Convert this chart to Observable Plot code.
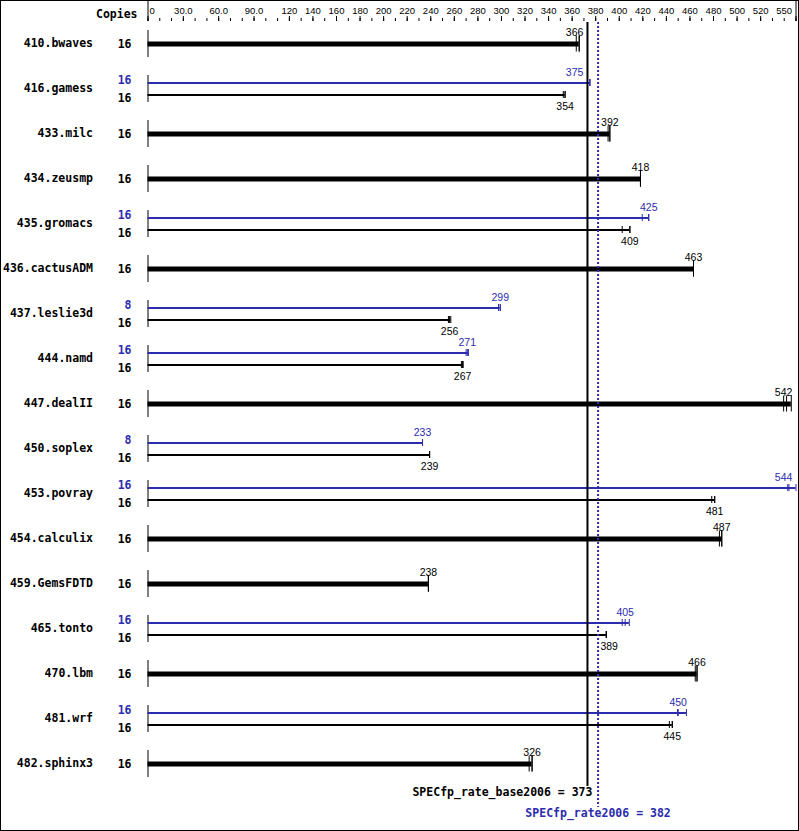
<!DOCTYPE html>
<html><head><meta charset="utf-8">
<script src="https://cdn.jsdelivr.net/npm/d3@7"></script>
<script src="https://cdn.jsdelivr.net/npm/@observablehq/plot@0.6"></script>
<style>body{margin:0;background:#fff} svg{display:block}</style>
</head><body><div id="chart"></div>
<script>
const benchmarks = ["410.bwaves","416.gamess","433.milc","434.zeusmp","435.gromacs","436.cactusADM","437.leslie3d","444.namd","447.dealII","450.soplex","453.povray","454.calculix","459.GemsFDTD","465.tonto","470.lbm","481.wrf","482.sphinx3"];
const baseValues = [366,354,392,418,409,463,256,267,542,239,481,487,238,389,466,445,326];
const peakValues = [null,375,null,null,425,null,299,271,null,233,544,null,null,405,null,450,null];
const baseCopies = [16,16,16,16,16,16,16,16,16,16,16,16,16,16,16,16,16];
const peakCopies = [null,16,null,null,16,null,8,16,null,8,16,null,null,16,null,16,null];
const baseRuns = [[363.5,366,366],[352.5,354,354],[390.5,392,392],[418,418,418],[402.5,409,409],[463,463,463],[255,256,257],[266,267,267.5],[539.5,542,546],[239,239,239],[478.5,481,481],[485,487,487],[238,238,238],[389,389,389],[464.5,466,466],[442.5,445,445],[323.5,326,326]];
const peakRuns = [null,[375,375,375],null,null,[419.5,425,425],null,[297.5,299,299],[270,271,272],null,[233,233,233],[543,544,550],null,null,[402.5,405,408.5],null,[449.5,450,457],null];
const minorTicks = [0,10,20,30,40,50,60,70,80,90,100,110,120,130,140,150,160,170,180,190,200,210,220,230,240,250,260,270,280,290,300,310,320,330,340,350,360,370,380,390,400,410,420,430,440,450,460,470,480,490,500,510,520,530,540,550];
const tickValues = [0,30,60,90,120,140,160,180,200,220,240,260,280,300,320,340,360,380,400,420,440,460,480,500,520,550];
const tickLabels = ["0","30.0","60.0","90.0","120","140","160","180","200","220","240","260","280","300","320","340","360","380","400","420","440","460","480","500","520","550"];
const baseOverall = 373, peakOverall = 382;
const baseOverallLabel = "SPECfp_rate_base2006 = 373";
const peakOverallLabel = "SPECfp_rate2006 = 382";
const copiesHeader = "Copies";

const BLUE = "#2c2cae", BLACK = "#000";
const MONO = "DejaVu Sans Mono, monospace";
const SANS = "Liberation Sans, Arial, sans-serif";

const rows = benchmarks.map((b,i)=>({b, base: baseValues[i], peak: peakValues[i], bc: baseCopies[i], pc: peakCopies[i], br: baseRuns[i], pr: peakRuns[i]}));
const single = rows.filter(r=>r.peak==null);
const dual = rows.filter(r=>r.peak!=null);

function place(v){
  const mid = (baseOverall+peakOverall)/2;
  if (v > baseOverall-8 && v < mid) return {lx: baseOverall-3.5, a: "end"};
  if (v >= mid && v < peakOverall+8.5) return {lx: peakOverall+2, a: "start"};
  return {lx: Math.min(v, 539.5), a: "middle"};
}
const labels = [
  ...single.map(r=>({b:r.b, v:r.base, dy:-11, color:BLACK, ...place(r.base)})),
  ...dual.map(r=>({b:r.b, v:r.peak, dy:-16, color:BLUE, ...place(r.peak)})),
  ...dual.map(r=>({b:r.b, v:r.base, dy:17.5, color:BLACK, ...place(r.base)}))
];
const labelMarks = [];
for (const a of ["start","middle","end"]) {
  for (const [dy,color] of [[-11,BLACK],[-16,BLUE],[17.5,BLACK]]) {
    const data = labels.filter(d=>d.a===a && d.dy===dy);
    if (data.length) labelMarks.push(Plot.text(data, {x:"lx", y:"b", text: d=>String(d.v), textAnchor:a, dy, fill:color, fontFamily:SANS, fontSize:10.5}));
  }
}
const singleRunPts = single.flatMap(r=>r.br.map(v=>({b:r.b, v})));
const baseRunPts = dual.flatMap(r=>r.br.map(v=>({b:r.b, v})));
const peakRunPts = dual.flatMap(r=>r.pr.map(v=>({b:r.b, v})));

const chart = Plot.plot({
  width: 799, height: 831,
  marginTop: 21, marginBottom: 45, marginLeft: 147.5, marginRight: 3.5,
  x: {domain: [0,550], axis: null, label: null},
  y: {type: "band", domain: benchmarks, padding: 0, axis: null, label: null},
  style: {background: "white"},
  marks: [
    // top axis ticks
    Plot.ruleX(minorTicks, {x: d=>d, insetTop: -3, insetBottom: 765, stroke: BLACK}),
    Plot.ruleX(tickValues, {x: d=>d, insetTop: -5, insetBottom: 765, stroke: BLACK}),
    Plot.ruleX([tickValues[0], tickValues[tickValues.length-1]], {x: d=>d, insetTop: -20, insetBottom: 765, stroke: BLACK}),
    Plot.text(tickValues.slice(1,-1), {x: d=>d, frameAnchor: "top", dy: -14.5, text: (d,i)=>tickLabels[i+1], fontFamily: SANS, fontSize: 9.5, fill: BLACK}),
    Plot.text([tickValues[0]], {x: d=>d, frameAnchor: "top", dy: -14.5, dx: 1.5, textAnchor: "start", text: ()=>tickLabels[0], fontFamily: SANS, fontSize: 9.5, fill: BLACK}),
    Plot.text([tickValues[tickValues.length-1]], {x: d=>d, frameAnchor: "top", dy: -14.5, dx: -4, textAnchor: "end", text: ()=>tickLabels[tickLabels.length-1], fontFamily: SANS, fontSize: 9.5, fill: BLACK}),
    Plot.text([copiesHeader], {frameAnchor: "top-left", dx: -10.5, dy: -11.5, textAnchor: "end", text: d=>d, fontFamily: MONO, fontWeight: "bold", fontSize: 11.5, fill: BLACK}),
    // row axis ticks
    Plot.tickX(benchmarks, {x: ()=>0, y: d=>d, insetTop: 9, insetBottom: 9, stroke: BLACK}),
    // names & copies
    Plot.text(rows, {y: "b", frameAnchor: "left", dx: -55, dy: -0.5, textAnchor: "end", text: "b", fontFamily: MONO, fontWeight: "bold", fontSize: 11.5, fill: BLACK}),
    Plot.text(single, {y: "b", frameAnchor: "left", dx: -16.5, dy: 0.5, textAnchor: "end", text: d=>String(d.bc), fontFamily: MONO, fontWeight: "bold", fontSize: 11.5, fill: BLACK}),
    Plot.text(dual, {y: "b", frameAnchor: "left", dx: -16.5, dy: -8.5, textAnchor: "end", text: d=>String(d.pc), fontFamily: MONO, fontWeight: "bold", fontSize: 11.5, fill: BLUE}),
    Plot.text(dual, {y: "b", frameAnchor: "left", dx: -16.5, dy: 9.5, textAnchor: "end", text: d=>String(d.bc), fontFamily: MONO, fontWeight: "bold", fontSize: 11.5, fill: BLACK}),
    // bars
    Plot.ruleY(single, {y: "b", x1: 0, x2: d=>d3.max(d.br), stroke: BLACK, strokeWidth: 5}),
    Plot.ruleY(dual, {y: "b", x1: 0, x2: d=>d3.max(d.pr), stroke: BLUE, strokeWidth: 2, dy: -6}),
    Plot.ruleY(dual, {y: "b", x1: 0, x2: d=>d3.max(d.br), stroke: BLACK, strokeWidth: 2, dy: 6}),
    // run ticks
    Plot.tickX(singleRunPts, {x: "v", y: "b", insetTop: 14.5, insetBottom: 14.5, stroke: BLACK}),
    Plot.tickX(peakRunPts, {x: "v", y: "b", insetTop: 19, insetBottom: 19, dy: -6, stroke: BLUE}),
    Plot.tickX(baseRunPts, {x: "v", y: "b", insetTop: 19, insetBottom: 19, dy: 6, stroke: BLACK}),
    // overall lines
    Plot.ruleX([baseOverall], {x: d=>d, stroke: BLACK, strokeWidth: 2, insetTop: 1}),
    Plot.ruleX([peakOverall], {x: d=>d, stroke: BLUE, strokeWidth: 2, strokeDasharray: "2,2", insetTop: 1, insetBottom: -21}),
    Plot.text([baseOverall], {x: d=>d, frameAnchor: "bottom", dy: 9, dx: 5, textAnchor: "end", text: ()=>baseOverallLabel, fontFamily: MONO, fontWeight: "bold", fontSize: 11.5, fill: BLACK}),
    Plot.text([peakOverall], {x: d=>d, frameAnchor: "bottom", dy: 30.5, textAnchor: "middle", text: ()=>peakOverallLabel, fontFamily: MONO, fontWeight: "bold", fontSize: 11.5, fill: BLUE}),
    ...labelMarks
  ]
});
chart.style.outline = "1px solid black";
chart.style.outlineOffset = "-1px";
document.getElementById("chart").appendChild(chart);
</script>
</body></html>
